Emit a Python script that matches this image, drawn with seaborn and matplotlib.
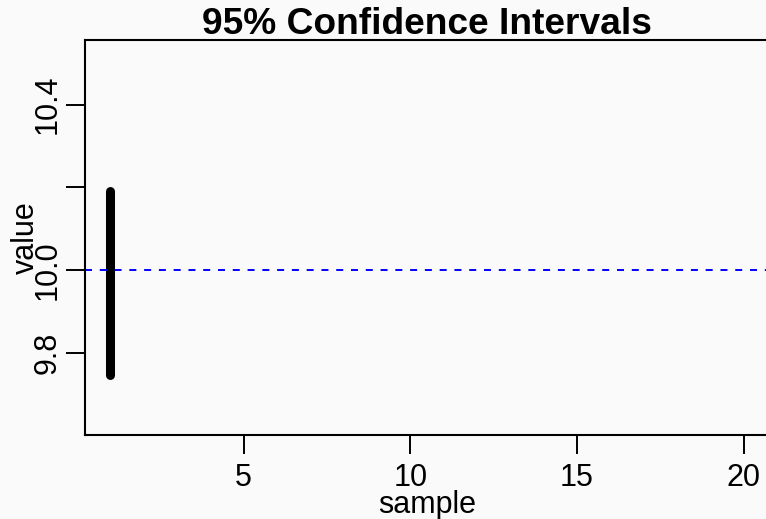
import matplotlib
matplotlib.use("Agg")
import matplotlib.pyplot as plt
import seaborn as sns
import pandas as pd

# Confidence interval for each sample (only the first one is drawn so far)
samples = [1]
lower = [9.745]
upper = [10.192]
true_mean = 10.0

x_ticks = [5, 10, 15, 20]
y_ticks = [9.8, 10.0, 10.2, 10.4]
y_tick_labels = ["9.8", "10.0", "", "10.4"]

sns.set_theme(style="white")
plt.rcParams["font.family"] = ["Liberation Sans", "DejaVu Sans"]

bg = "#fafafa"
fig = plt.figure(figsize=(7.66, 5.19), dpi=100, facecolor=bg)
ax = fig.add_axes([85 / 766, 1 - 435 / 519, 684 / 766, 395 / 519])
ax.set_facecolor(bg)

# long-form table: one row per interval end
rows = []
for s, lo, hi in zip(samples, lower, upper):
    rows.append({"sample": s, "value": lo, "end": "lower"})
    rows.append({"sample": s, "value": hi, "end": "upper"})
df = pd.DataFrame(rows)

sns.lineplot(data=df, x="sample", y="value", units="sample", estimator=None,
             sort=False, color="black", linewidth=6.5, ax=ax,
             solid_capstyle="round")

ax.axhline(true_mean, color="#0000ff", linewidth=1.4, dashes=(3.6, 4.0))

ax.set_xlim(0.24, 20.76)
ax.set_ylim(9.601, 10.556)
ax.set_xticks(x_ticks)
ax.set_xticklabels([str(t) for t in x_ticks])
ax.set_yticks(y_ticks)
ax.set_yticklabels(y_tick_labels, rotation=90, va="center")

ax.tick_params(axis="both", which="major", direction="out", length=14,
               width=1.4, color="black", labelsize=22,
               bottom=True, left=True, labelcolor="black")
ax.tick_params(axis="x", pad=6)
ax.tick_params(axis="y", pad=2)

for side in ["left", "bottom", "top"]:
    ax.spines[side].set_visible(True)
    ax.spines[side].set_color("black")
    ax.spines[side].set_linewidth(1.5)
# the box's right side falls just past the figure edge
ax.spines["right"].set_visible(False)

ax.set_title("95% Confidence Intervals", fontsize=26.7, fontweight="bold",
             color="black", pad=4)
ax.set_xlabel("sample", fontsize=22, color="black", labelpad=-2)
ax.set_ylabel("value", fontsize=22, color="black", labelpad=-6)

fig.savefig("out.png", dpi=100, facecolor=bg)
